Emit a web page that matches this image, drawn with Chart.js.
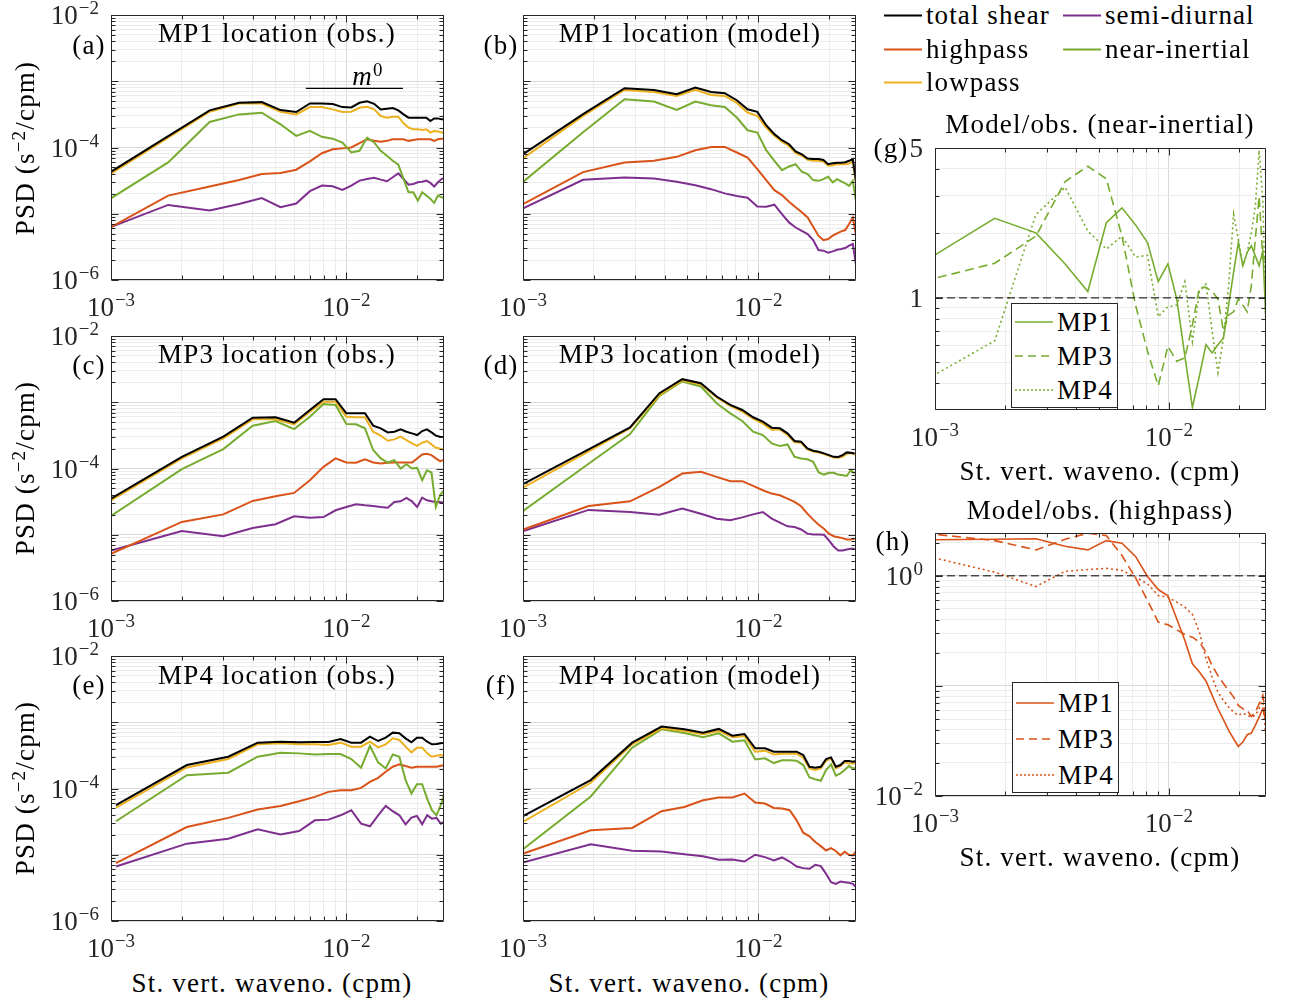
<!DOCTYPE html>
<html>
<head>
<meta charset="utf-8">
<title>Shear spectra, obs. vs model</title>
<script src="https://cdn.jsdelivr.net/npm/chart.js@4.4.1/dist/chart.umd.min.js"></script>
<style>
  html, body { margin: 0; padding: 0; background: #fff; }
  body { position: relative; width: 1290px; height: 1003px; overflow: hidden;
         font-family: 'Liberation Serif', 'DejaVu Serif', serif; color: #000; }
  .panel { position: absolute; }
  .panel canvas { display: block; }
  .txt { position: absolute; z-index: 3; white-space: nowrap; font-size: 27px; letter-spacing: 1.2px;
         line-height: 1; transform: translate(-50%, -50%); }
  .txt sup { font-size: 0.7em; vertical-align: 0.45em; line-height: 0; }
  .ylab { transform: translate(-50%, -50%) rotate(-90deg); }
  .key { position: absolute; z-index: 3; display: flex; align-items: center; transform: translateY(-50%);
         font-size: 27px; letter-spacing: 1.1px; white-space: nowrap; line-height: 1; }
  .key svg { margin-right: 4px; }
  .lbox { position: absolute; z-index: 3; background: #fff; border: 1px solid #262626; box-sizing: border-box; }
  .lbox .key { position: static; transform: none; height: 34px; padding-left: 3px; }
</style>
</head>
<body>
<div id="stage"></div>

<!-- panel titles -->
<div class="txt" style="left:277px;top:33px">MP1 location (obs.)</div>
<div class="txt" style="left:690px;top:33px">MP1 location (model)</div>
<div class="txt" style="left:277px;top:354px">MP3 location (obs.)</div>
<div class="txt" style="left:690px;top:354px">MP3 location (model)</div>
<div class="txt" style="left:277px;top:675px">MP4 location (obs.)</div>
<div class="txt" style="left:690px;top:675px">MP4 location (model)</div>
<div class="txt" style="left:1100px;top:124px">Model/obs. (near-inertial)</div>
<div class="txt" style="left:1100px;top:510px">Model/obs. (highpass)</div>

<!-- panel letters -->
<div class="txt" style="left:89px;top:45px">(a)</div>
<div class="txt" style="left:501px;top:45px">(b)</div>
<div class="txt" style="left:89px;top:365px">(c)</div>
<div class="txt" style="left:501px;top:365px">(d)</div>
<div class="txt" style="left:89px;top:685px">(e)</div>
<div class="txt" style="left:501px;top:685px">(f)</div>
<div class="txt" style="left:891px;top:148px">(g)</div>
<div class="txt" style="left:893px;top:541px">(h)</div>

<!-- axis titles -->
<div class="txt ylab" style="left:25px;top:148px">PSD (s<sup>−2</sup>/cpm)</div>
<div class="txt ylab" style="left:25px;top:468px">PSD (s<sup>−2</sup>/cpm)</div>
<div class="txt ylab" style="left:25px;top:788px">PSD (s<sup>−2</sup>/cpm)</div>
<div class="txt" style="left:272px;top:983px">St. vert. waveno. (cpm)</div>
<div class="txt" style="left:689px;top:983px">St. vert. waveno. (cpm)</div>
<div class="txt" style="left:1100px;top:471px">St. vert. waveno. (cpm)</div>
<div class="txt" style="left:1100px;top:857px">St. vert. waveno. (cpm)</div>

<!-- flat-spectrum marker in (a) -->
<div class="txt" style="left:368px;top:76px"><i>m</i><sup>0</sup></div>

<!-- shared legend -->
<div class="key" style="left:884px;top:15px"><svg width="38" height="4"><line x1="0" y1="2" x2="38" y2="2" stroke="#000000" stroke-width="2"/></svg>total shear</div>
<div class="key" style="left:884px;top:49px"><svg width="38" height="4"><line x1="0" y1="2" x2="38" y2="2" stroke="#D95319" stroke-width="2"/></svg>highpass</div>
<div class="key" style="left:884px;top:82px"><svg width="38" height="4"><line x1="0" y1="2" x2="38" y2="2" stroke="#EDB120" stroke-width="2"/></svg>lowpass</div>
<div class="key" style="left:1063px;top:15px"><svg width="38" height="4"><line x1="0" y1="2" x2="38" y2="2" stroke="#7E2F8E" stroke-width="2"/></svg>semi-diurnal</div>
<div class="key" style="left:1063px;top:49px"><svg width="38" height="4"><line x1="0" y1="2" x2="38" y2="2" stroke="#77AC30" stroke-width="2"/></svg>near-inertial</div>

<!-- legend (g) -->
<div class="lbox" style="left:1011px;top:303px;width:107px;height:105px;padding-top:1px">
  <div class="key"><svg width="38" height="4"><line x1="0" y1="2" x2="38" y2="2" stroke="#77AC30" stroke-width="1.6"/></svg>MP1</div>
  <div class="key"><svg width="38" height="4"><line x1="0" y1="2" x2="38" y2="2" stroke="#77AC30" stroke-width="1.6" stroke-dasharray="8 5"/></svg>MP3</div>
  <div class="key"><svg width="38" height="4"><line x1="0" y1="2" x2="38" y2="2" stroke="#77AC30" stroke-width="1.6" stroke-dasharray="2 2"/></svg>MP4</div>
</div>
<!-- legend (h) -->
<div class="lbox" style="left:1012px;top:682px;width:107px;height:111px;padding-top:2px">
  <div class="key" style="height:36px"><svg width="38" height="4"><line x1="0" y1="2" x2="38" y2="2" stroke="#D95319" stroke-width="1.6"/></svg>MP1</div>
  <div class="key" style="height:36px"><svg width="38" height="4"><line x1="0" y1="2" x2="38" y2="2" stroke="#D95319" stroke-width="1.6" stroke-dasharray="8 5"/></svg>MP3</div>
  <div class="key" style="height:36px"><svg width="38" height="4"><line x1="0" y1="2" x2="38" y2="2" stroke="#D95319" stroke-width="1.6" stroke-dasharray="2 2"/></svg>MP4</div>
</div>

<script>
/* ── wavenumber grids (cpm) ─────────────────────────────────────────────── */
const kObsMP1 = [0.000875,0.00175,0.002625,0.0035,0.004375,0.00525,0.006125,0.007,0.007875,0.00875,0.009625,0.0105,0.011375,0.01225,0.013125,0.014,0.014875,0.01575,0.016625,0.0175,0.018375,0.01925,0.020125,0.021,0.021875,0.02275,0.023625,0.0245,0.025375,0.02625];
const kModMP1 = [0.0009,0.0018,0.0027,0.0036,0.0045,0.0054,0.0063,0.0072,0.0081,0.009,0.0099,0.0108,0.0117,0.0126,0.0135,0.0144,0.0153,0.0162,0.0171,0.018,0.0189,0.0198,0.0207,0.0216,0.0225,0.0234,0.0243,0.0252,0.0261];
const kObsMP3 = [0.001,0.002,0.003,0.004,0.005,0.006,0.007,0.008,0.009,0.01,0.011,0.012,0.013,0.014,0.015,0.016,0.017,0.018,0.019,0.02,0.021,0.022,0.023,0.024,0.025,0.026];
const kModMP3 = [0.00095,0.0019,0.00285,0.0038,0.00475,0.0057,0.00665,0.0076,0.00855,0.0095,0.01045,0.0114,0.01235,0.0133,0.01425,0.0152,0.01615,0.0171,0.01805,0.019,0.01995,0.0209,0.02185,0.0228,0.02375,0.0247,0.02565];
const kObsMP4 = [0.00105,0.0021,0.00315,0.0042,0.00525,0.0063,0.00735,0.0084,0.00945,0.0105,0.01155,0.0126,0.01365,0.0147,0.01575,0.0168,0.01785,0.0189,0.01995,0.021,0.02205,0.0231,0.02415,0.0252,0.02625];
const kModMP4 = [0.00097,0.00194,0.00291,0.00388,0.00485,0.00582,0.00679,0.00776,0.00873,0.0097,0.01067,0.01164,0.01261,0.01358,0.01455,0.01552,0.01649,0.01746,0.01843,0.0194,0.02037,0.02134,0.02231,0.02328,0.02425,0.02522,0.02619];
const kRatio  = kModMP1;

/* ── (a) MP1 obs ───────────────────────────────────────────────────────── */
const obsMP1Total = [3.2e-5,1.48e-4,3.63e-4,4.73e-4,4.84e-4,3.67e-4,3.43e-4,4.62e-4,4.62e-4,4.52e-4,4.07e-4,4.03e-4,4.73e-4,5.0e-4,4.57e-4,3.76e-4,3.85e-4,3.94e-4,3.63e-4,3.16e-4,2.82e-4,2.82e-4,2.82e-4,2.82e-4,2.82e-4,2.51e-4,2.75e-4,2.75e-4,2.66e-4,2.66e-4];
const obsMP1Low   = [3.0e-5,1.41e-4,3.47e-4,4.62e-4,4.62e-4,3.47e-4,3.16e-4,4.07e-4,4.07e-4,3.76e-4,3.43e-4,3.47e-4,3.98e-4,4.12e-4,3.76e-4,2.99e-4,2.82e-4,2.92e-4,2.92e-4,2.32e-4,2.0e-4,1.88e-4,1.88e-4,1.84e-4,1.88e-4,1.68e-4,1.78e-4,1.74e-4,1.68e-4,1.68e-4];
const obsMP1NI    = [1.27e-5,5.96e-5,2.43e-4,3.16e-4,3.35e-4,2.24e-4,1.5e-4,1.78e-4,1.45e-4,1.36e-4,1.19e-4,8.4e-5,8.9e-5,1.41e-4,1.19e-4,8.9e-5,7.5e-5,6.3e-5,5.5e-5,3.35e-5,2.11e-5,2.11e-5,1.58e-5,2.11e-5,1.88e-5,1.68e-5,1.46e-5,1.88e-5,1.78e-5,1.68e-5];
const obsMP1High  = [4.84e-6,1.88e-5,2.57e-5,3.24e-5,3.98e-5,4.12e-5,4.62e-5,6.17e-5,8.2e-5,9.4e-5,9.7e-5,1.0e-4,1.16e-4,1.33e-4,1.26e-4,1.22e-4,1.26e-4,1.33e-4,1.33e-4,1.33e-4,1.26e-4,1.3e-4,1.33e-4,1.33e-4,1.33e-4,1.33e-4,1.26e-4,1.33e-4,1.36e-4,1.36e-4];
const obsMP1Semi  = [5.25e-6,1.36e-5,1.12e-5,1.4e-5,1.72e-5,1.26e-5,1.43e-5,2.19e-5,2.66e-5,2.6e-5,2.29e-5,2.66e-5,3.16e-5,3.35e-5,3.5e-5,3.27e-5,3.09e-5,3.55e-5,4.07e-5,3.35e-5,2.75e-5,2.82e-5,2.99e-5,3.05e-5,3.16e-5,2.92e-5,2.57e-5,2.99e-5,3.35e-5,3.55e-5];
const m0K     = [0.00673, 0.0174];
const m0Level = [7.8e-4, 7.8e-4];

/* ── (b) MP1 model ─────────────────────────────────────────────────────── */
const modMP1Total = [6.15e-5,3.18e-4,7.84e-4,7.4e-4,6.37e-4,8.03e-4,6.9e-4,6.59e-4,5.17e-4,3.78e-4,3.45e-4,2.17e-4,1.59e-4,1.29e-4,1.12e-4,8.7e-5,7.9e-5,6.8e-5,6.7e-5,6.7e-5,6.5e-5,5.6e-5,5.8e-5,5.9e-5,5.9e-5,6.0e-5,6.3e-5,6.7e-5,2.8e-5];
const modMP1Low   = [5.3e-5,3.0e-4,7.4e-4,6.9e-4,6.0e-4,7.4e-4,6.22e-4,6.0e-4,4.71e-4,3.37e-4,3.0e-4,2.0e-4,1.5e-4,1.22e-4,1.06e-4,8.2e-5,7.5e-5,6.5e-5,6.3e-5,6.3e-5,6.15e-5,5.3e-5,5.4e-5,5.6e-5,5.6e-5,5.6e-5,5.75e-5,6.15e-5,2.65e-5];
const modMP1NI    = [2.22e-5,1.7e-4,5.35e-4,4.94e-4,3.7e-4,4.94e-4,4.35e-4,4.1e-4,2.83e-4,1.82e-4,1.68e-4,9.1e-5,6.3e-5,4.55e-5,5.17e-5,5.6e-5,4.3e-5,3.96e-5,3.22e-5,3.14e-5,3.33e-5,3.61e-5,2.97e-5,3.33e-5,3.07e-5,2.87e-5,2.64e-5,3.14e-5,1.4e-5];
const modMP1High  = [1.15e-5,4.25e-5,5.94e-5,6.3e-5,7.23e-5,9.1e-5,1.02e-4,1.02e-4,8.4e-5,7.06e-5,4.71e-5,3.22e-5,2.27e-5,1.91e-5,1.52e-5,1.25e-5,1.05e-5,8.8e-6,6.37e-6,4.66e-6,4.0e-6,4.15e-6,4.66e-6,5.06e-6,5.42e-6,5.67e-6,6.98e-6,8.8e-6,4.4e-6];
const modMP1Semi  = [1.01e-5,3.26e-5,3.53e-5,3.41e-5,3.04e-5,2.7e-5,2.35e-5,2.03e-5,1.85e-5,1.74e-5,1.29e-5,1.28e-5,1.37e-5,9.9e-6,7.4e-6,6.2e-6,5.5e-6,4.93e-6,4.0e-6,2.83e-6,2.77e-6,2.58e-6,2.7e-6,2.86e-6,2.93e-6,3.04e-6,3.3e-6,3.49e-6,1.55e-6];

/* ── (c) MP3 obs ───────────────────────────────────────────────────────── */
const obsMP3Total = [3.5e-5,1.5e-4,3.02e-4,5.86e-4,5.93e-4,4.92e-4,7.65e-4,1.11e-3,1.11e-3,6.81e-4,6.81e-4,6.81e-4,4.43e-4,4.04e-4,3.51e-4,3.59e-4,3.9e-4,3.59e-4,3.39e-4,3.2e-4,3.68e-4,3.9e-4,3.51e-4,3.13e-4,3.02e-4,2.95e-4];
const obsMP3Low   = [3.31e-5,1.42e-4,2.85e-4,5.53e-4,5.53e-4,4.64e-4,7.22e-4,1.02e-3,1.02e-3,6.06e-4,5.93e-4,5.93e-4,3.59e-4,3.13e-4,2.62e-4,2.75e-4,3.02e-4,2.69e-4,2.39e-4,2.2e-4,2.45e-4,2.6e-4,2.31e-4,2.06e-4,2.01e-4,1.9e-4];
const obsMP3NI    = [1.92e-5,9.8e-5,1.96e-4,4.43e-4,5.21e-4,3.94e-4,6.06e-4,9.44e-4,9.12e-4,4.7e-4,4.64e-4,4.04e-4,1.9e-4,1.42e-4,1.23e-4,1.34e-4,1.0e-4,1.16e-4,1.0e-4,1.02e-4,6.66e-5,9.4e-5,8.7e-5,2.62e-5,3.94e-5,4.7e-5];
const obsMP3High  = [5.15e-6,1.56e-5,2.03e-5,3.24e-5,3.81e-5,4.28e-5,6.66e-5,1.06e-4,1.42e-4,1.23e-4,1.22e-4,1.38e-4,1.23e-4,1.19e-4,1.22e-4,1.23e-4,1.23e-4,1.23e-4,1.23e-4,1.42e-4,1.63e-4,1.67e-4,1.59e-4,1.42e-4,1.29e-4,1.35e-4];
const obsMP3Semi  = [5.79e-6,1.14e-5,9.5e-6,1.26e-5,1.44e-5,1.9e-5,1.81e-5,1.85e-5,2.34e-5,2.62e-5,2.88e-5,2.78e-5,2.72e-5,2.62e-5,2.56e-5,3.13e-5,3.2e-5,3.6e-5,3.2e-5,2.62e-5,3.64e-5,3.31e-5,3.2e-5,3.13e-5,3.13e-5,3.05e-5];

/* ── (d) MP3 model ─────────────────────────────────────────────────────── */
const modMP3Total = [5.27e-5,1.94e-4,4.18e-4,1.37e-3,2.23e-3,1.94e-3,1.22e-3,9.12e-4,7.65e-4,5.93e-4,5.09e-4,4.13e-4,4.04e-4,3.39e-4,2.6e-4,2.54e-4,2.01e-4,1.85e-4,1.79e-4,1.69e-4,1.59e-4,1.5e-4,1.49e-4,1.59e-4,1.75e-4,1.73e-4,1.69e-4];
const modMP3Low   = [4.65e-5,1.81e-4,4.04e-4,1.29e-3,2.13e-3,1.87e-3,1.18e-3,8.8e-4,7.22e-4,5.66e-4,4.75e-4,3.85e-4,3.9e-4,3.2e-4,2.48e-4,2.45e-4,1.94e-4,1.81e-4,1.75e-4,1.65e-4,1.56e-4,1.47e-4,1.45e-4,1.5e-4,1.67e-4,1.71e-4,1.63e-4];
const modMP3NI    = [2.01e-5,1.18e-4,3.31e-4,1.25e-3,2.06e-3,1.73e-3,9.66e-4,6.81e-4,5.21e-4,3.59e-4,3.2e-4,2.39e-4,2.18e-4,2.31e-4,1.5e-4,1.42e-4,1.38e-4,1.26e-4,8.7e-5,8.1e-5,8.6e-5,8.6e-5,8.1e-5,7.9e-5,7.7e-5,9.4e-5,8.4e-5];
const modMP3High  = [1.12e-5,2.72e-5,3.2e-5,5.27e-5,8.4e-5,8.9e-5,7.48e-5,6.43e-5,6.43e-5,5.46e-5,4.7e-5,4.18e-5,3.94e-5,3.51e-5,3.13e-5,2.69e-5,2.08e-5,1.69e-5,1.42e-5,1.23e-5,1.04e-5,9.5e-6,9.2e-6,8.9e-6,8.5e-6,8.5e-6,8.7e-6];
const modMP3Semi  = [1.07e-5,2.37e-5,2.2e-5,2.01e-5,2.48e-5,2.08e-5,1.75e-5,1.65e-5,1.83e-5,2.03e-5,2.2e-5,1.75e-5,1.52e-5,1.34e-5,1.31e-5,1.2e-5,1.04e-5,1.01e-5,1.01e-5,1.0e-5,8.2e-6,6.65e-6,5.8e-6,5.8e-6,6.0e-6,6.14e-6,6.14e-6];

/* ── (e) MP4 obs ───────────────────────────────────────────────────────── */
const obsMP4Total = [5.59e-5,2.26e-4,3.02e-4,4.92e-4,5.09e-4,4.98e-4,5.03e-4,5.03e-4,5.59e-4,4.92e-4,4.92e-4,6.06e-4,5.21e-4,5.86e-4,6.97e-4,6.81e-4,5.72e-4,4.98e-4,5.86e-4,5.86e-4,5.09e-4,4.64e-4,4.7e-4,4.81e-4,4.92e-4];
const obsMP4Low   = [5.15e-5,2.08e-4,2.78e-4,4.64e-4,4.81e-4,4.64e-4,4.64e-4,4.54e-4,4.92e-4,4.28e-4,4.28e-4,5.09e-4,4.18e-4,4.64e-4,5.72e-4,5.4e-4,4.28e-4,3.51e-4,4.13e-4,4.13e-4,3.39e-4,3.02e-4,3.13e-4,3.2e-4,3.08e-4];
const obsMP4NI    = [3.2e-5,1.59e-4,1.73e-4,3.02e-4,3.47e-4,3.39e-4,3.27e-4,3.31e-4,3.31e-4,2.78e-4,2.06e-4,4.38e-4,2.48e-4,2.01e-4,3.27e-4,3.02e-4,1.34e-4,8.4e-5,1.16e-4,1.16e-4,7.05e-5,4.7e-5,3.94e-5,5.59e-5,8.9e-5];
const obsMP4High  = [7.48e-6,2.62e-5,3.6e-5,4.81e-5,5.46e-5,6.43e-5,7.48e-5,8.9e-5,9.4e-5,9.4e-5,1.02e-4,1.26e-4,1.45e-4,1.79e-4,2.13e-4,2.31e-4,2.18e-4,2.06e-4,2.13e-4,2.13e-4,2.13e-4,2.13e-4,2.13e-4,2.2e-4,2.26e-4];
const obsMP4Semi  = [6.65e-6,1.47e-5,1.75e-5,2.42e-5,2.03e-5,2.28e-5,3.31e-5,3.39e-5,3.94e-5,4.7e-5,2.95e-5,2.69e-5,3.94e-5,5.46e-5,4.54e-5,3.94e-5,2.88e-5,3.64e-5,3.85e-5,2.88e-5,3.94e-5,3.51e-5,3.6e-5,2.95e-5,3.2e-5];

/* ── (f) MP4 model ─────────────────────────────────────────────────────── */
const modMP4Total = [3.6e-5,1.34e-4,4.92e-4,8.6e-4,7.83e-4,6.97e-4,7.93e-4,6.28e-4,6.65e-4,4.04e-4,4.04e-4,3.59e-4,3.59e-4,3.59e-4,3.59e-4,3.2e-4,2.13e-4,2.06e-4,2.13e-4,2.78e-4,2.95e-4,2.13e-4,2.26e-4,2.6e-4,2.6e-4,2.54e-4,2.6e-4];
const modMP4Low   = [2.95e-5,1.22e-4,4.64e-4,8.11e-4,7.39e-4,6.58e-4,7.39e-4,5.93e-4,6.21e-4,3.59e-4,3.72e-4,3.27e-4,3.35e-4,3.35e-4,3.35e-4,2.92e-4,2.01e-4,1.9e-4,2.01e-4,2.62e-4,2.85e-4,2.01e-4,2.18e-4,2.48e-4,2.39e-4,2.39e-4,2.45e-4];
const modMP4NI    = [1.11e-5,7.57e-5,4.13e-4,7.83e-4,6.89e-4,5.93e-4,6.81e-4,5.09e-4,5.34e-4,2.75e-4,2.85e-4,2.42e-4,2.66e-4,2.66e-4,2.62e-4,2.26e-4,1.47e-4,1.38e-4,1.31e-4,1.9e-4,2.31e-4,1.56e-4,1.69e-4,1.9e-4,2.18e-4,2.01e-4,2.06e-4];
const modMP4High  = [1.0e-5,2.34e-5,2.54e-5,4.54e-5,5.27e-5,6.66e-5,7.31e-5,7.31e-5,8.4e-5,6.14e-5,5.93e-5,5.09e-5,4.98e-5,4.7e-5,3.31e-5,2.15e-5,1.9e-5,1.56e-5,1.35e-5,1.16e-5,1.26e-5,1.14e-5,9.8e-6,1.11e-5,1.0e-5,9.8e-6,1.16e-5];
const modMP4Semi  = [7.4e-6,1.44e-5,1.15e-5,1.12e-5,1.02e-5,9.5e-6,8.4e-6,8.5e-6,7.9e-6,1.0e-5,9.2e-6,8.2e-6,9.1e-6,7.9e-6,6.65e-6,6.28e-6,6.14e-6,7.05e-6,6.73e-6,5.15e-6,3.85e-6,3.64e-6,3.94e-6,3.85e-6,3.77e-6,3.64e-6,3.13e-6];

/* ── (g) (h) model/obs ratios ──────────────────────────────────────────── */
const ratioNI_MP1 = [1.48,2.35,2.01,1.44,1.07,2.24,2.63,2.19,1.81,1.19,1.44,0.99,0.535,0.309,0.433,0.605,0.554,0.605,0.65,0.925,1.32,1.81,1.41,1.63,1.75,1.57,1.41,1.66,0.70];
const ratioNI_MP3 = [1.2,1.45,1.94,3.49,4.11,3.59,1.94,0.925,0.564,0.389,0.595,0.507,0.525,0.748,1.12,1.12,1.07,0.99,0.70,0.832,0.861,0.99,0.925,0.861,1.14,1.88,2.97,1.52,1.52];
const ratioNI_MP4 = [0.411,0.631,2.45,3.28,2.05,1.69,1.94,1.55,1.58,0.817,0.909,0.925,1.19,0.627,1.07,1.16,0.70,0.448,0.65,1.14,2.45,1.88,1.41,1.63,2.01,2.67,4.88,2.87,0.605];
const ratioHP_MP1 = [2.12,2.15,2.17,1.86,1.72,2.09,1.98,1.5,0.986,0.751,0.658,0.407,0.259,0.159,0.134,0.111,0.082,0.062,0.0493,0.0394,0.0331,0.0282,0.0309,0.036,0.0373,0.0438,0.0521,0.062,0.0454];
const ratioHP_MP3 = [2.44,2.09,1.72,2.15,2.44,2.32,1.53,0.959,0.597,0.38,0.359,0.324,0.293,0.277,0.25,0.203,0.153,0.124,0.105,0.091,0.0792,0.0665,0.062,0.06,0.0529,0.0578,0.0689,0.082,0.0486];
const ratioHP_MP4 = [1.53,1.08,0.8,1.1,1.14,1.17,1.12,0.972,0.846,0.663,0.64,0.577,0.52,0.446,0.308,0.177,0.12,0.0879,0.0738,0.0643,0.0578,0.054,0.0566,0.054,0.0521,0.054,0.0621,0.0764,0.0299];
const unityK = [0.001, 0.026];
const unityY = [1, 1];

/* ── tick lists and labels (base, exponent) ────────────────────────────── */
const waveTicks = [0.001,0.002,0.003,0.004,0.005,0.006,0.007,0.008,0.009,0.01,0.02];
const psdTicks  = [1e-6,2e-6,3e-6,4e-6,5e-6,6e-6,7e-6,8e-6,9e-6,1e-5,2e-5,3e-5,4e-5,5e-5,6e-5,7e-5,8e-5,9e-5,
                   1e-4,2e-4,3e-4,4e-4,5e-4,6e-4,7e-4,8e-4,9e-4,1e-3,2e-3,3e-3,4e-3,5e-3,6e-3,7e-3,8e-3,9e-3,1e-2];
const niRatioTicks = [0.4,0.5,0.6,0.7,0.8,0.9,1,2,3,4,5];
const hpRatioTicks = [0.01,0.02,0.03,0.04,0.05,0.06,0.07,0.08,0.09,0.1,0.2,0.3,0.4,0.5,0.6,0.7,0.8,0.9,1,2];
const waveLabels = { '-3': ['10', '−3'], '-2': ['10', '−2'] };
const psdLabels  = { '-6': ['10', '−6'], '-4': ['10', '−4'], '-2': ['10', '−2'] };
const niLabels   = { '5': ['5', ''], '1': ['1', ''] };
const hpLabels   = { '0': ['10', '0'], '-2': ['10', '−2'] };

/* ── styles ────────────────────────────────────────────────────────────── */
const BLACK = '#000000', HIGH = '#D95319', LOW = '#EDB120', SEMI = '#7E2F8E', NI = '#77AC30';
const AXIS_INK = '#262626';
const BASE_FONT = "27px 'Liberation Serif', 'DejaVu Serif', serif";
const EXP_FONT  = "19px 'Liberation Serif', 'DejaVu Serif', serif";

const isDecade = v => Math.abs(Math.log10(v) - Math.round(Math.log10(v))) < 1e-9;
const decadeLabel = table => v => {
  const e = Math.log10(v);
  return Math.abs(e - Math.round(e)) < 1e-9 ? (table[String(Math.round(e))] || null) : null;
};
const plainLabel = table => v => table[String(v)] || null;
const pts = (xs, ys) => ys.map((y, i) => ({ x: xs[i], y }));

function line(label, xs, ys, color, dash, width) {
  return { label, data: pts(xs, ys), borderColor: color, borderWidth: width || 2,
           borderDash: dash || [], pointRadius: 0, tension: 0, fill: false };
}

/* MATLAB-ish box with inward ticks on all four sides */
const framePlugin = {
  id: 'matlabFrame',
  afterDatasetsDraw(chart) {
    const { ctx, chartArea: a, scales: { x, y } } = chart;
    const left = Math.round(a.left) + 0.5, right = Math.round(a.right) - 0.5;
    const top = Math.round(a.top) + 0.5, bottom = Math.round(a.bottom) - 0.5;
    ctx.save();
    ctx.strokeStyle = AXIS_INK;
    ctx.lineWidth = 1;
    ctx.beginPath();
    x.ticks.forEach(t => {
      const px = Math.round(x.getPixelForValue(t.value)) + 0.5;
      const len = isDecade(t.value) ? 7 : 4;
      ctx.moveTo(px, bottom); ctx.lineTo(px, bottom - len);
      ctx.moveTo(px, top); ctx.lineTo(px, top + len);
    });
    y.ticks.forEach(t => {
      const py = Math.round(y.getPixelForValue(t.value)) + 0.5;
      const len = isDecade(t.value) ? 7 : 4;
      ctx.moveTo(left, py); ctx.lineTo(left + len, py);
      ctx.moveTo(right, py); ctx.lineTo(right - len, py);
    });
    ctx.rect(left, top, right - left, bottom - top);
    ctx.stroke();
    ctx.restore();
  }
};

/* power-of-ten tick labels with a real raised exponent */
function drawPow(ctx, spec, x, baseline, align) {
  ctx.font = BASE_FONT;
  const wb = ctx.measureText(spec[0]).width;
  ctx.font = EXP_FONT;
  const we = spec[1] ? ctx.measureText(spec[1]).width + 1 : 0;
  const x0 = align === 'center' ? x - (wb + we) / 2 : x - (wb + we);
  ctx.font = BASE_FONT;
  ctx.fillText(spec[0], x0, baseline);
  if (spec[1]) {
    ctx.font = EXP_FONT;
    ctx.fillText(spec[1], x0 + wb + 1, baseline - 10);
  }
}
const tickLabelPlugin = {
  id: 'powTicks',
  afterDraw(chart, args, opts) {
    const { ctx, chartArea: a, scales: { x, y } } = chart;
    ctx.save();
    ctx.fillStyle = AXIS_INK;
    ctx.textAlign = 'left';
    ctx.textBaseline = 'alphabetic';
    if (opts.x) x.ticks.forEach(t => {
      const spec = opts.x(t.value);
      if (spec) drawPow(ctx, spec, x.getPixelForValue(t.value), a.bottom + 36, 'center');
    });
    if (opts.y) y.ticks.forEach(t => {
      const spec = opts.y(t.value);
      if (spec) drawPow(ctx, spec, a.left - 12, y.getPixelForValue(t.value) + 9, 'right');
    });
    ctx.restore();
  }
};

function makePanel(cfg) {
  const { L, T, R, B } = cfg.area;
  const pad = cfg.pad;
  const w = R - L + pad.l + pad.r, h = B - T + pad.t + pad.b;
  const wrap = document.createElement('div');
  wrap.className = 'panel';
  wrap.style.cssText = `left:${L - pad.l}px;top:${T - pad.t}px;width:${w}px;height:${h}px`;
  const cv = document.createElement('canvas');
  cv.width = w; cv.height = h;
  wrap.appendChild(cv);
  document.getElementById('stage').appendChild(wrap);

  const gridColor = c => (c.tick && isDecade(c.tick.value)) ? '#d9d9d9' : '#ececec';
  return new Chart(cv, {
    type: 'line',
    data: { datasets: cfg.datasets },
    options: {
      responsive: false, animation: false, events: [],
      layout: { padding: { left: 0, top: pad.t, right: pad.r, bottom: 0 } },
      plugins: {
        legend: { display: false }, tooltip: { enabled: false },
        powTicks: { x: decadeLabel(waveLabels), y: cfg.yLabel || null }
      },
      scales: {
        x: {
          type: 'logarithmic', min: 0.001, max: 0.026,
          afterBuildTicks: s => { s.ticks = waveTicks.map(v => ({ value: v })); },
          afterFit: s => { s.height = pad.b; },
          grid: { color: gridColor, drawTicks: false },
          border: { display: false },
          ticks: { display: false, autoSkip: false }
        },
        y: {
          type: 'logarithmic', min: cfg.yMin, max: cfg.yMax,
          afterBuildTicks: s => { s.ticks = cfg.yTicks.map(v => ({ value: v })); },
          afterFit: s => { s.width = pad.l; },
          grid: { color: gridColor, drawTicks: false },
          border: { display: false },
          ticks: { display: false, autoSkip: false }
        }
      }
    },
    plugins: [framePlugin, tickLabelPlugin]
  });
}

function spectra(k, total, low, ni, high, semi) {
  return [
    line('total shear', k, total, BLACK),
    line('lowpass', k, low, LOW),
    line('near-inertial', k, ni, NI),
    line('highpass', k, high, HIGH),
    line('semi-diurnal', k, semi, SEMI)
  ];
}

const DASH = [9, 5], DOT = [2, 3];
const psdLabelFn = decadeLabel(psdLabels);
const padLeftCol = { l: 111, t: 15, r: 14, b: 42 };
const padMidCol  = { l: 50,  t: 15, r: 14, b: 42 };

makePanel({ area: { L: 111, T: 15, R: 444, B: 280 }, pad: padLeftCol, yMin: 1e-6, yMax: 1e-2,
  yTicks: psdTicks, yLabel: psdLabelFn,
  datasets: spectra(kObsMP1, obsMP1Total, obsMP1Low, obsMP1NI, obsMP1High, obsMP1Semi)
    .concat([line('m0', m0K, m0Level, BLACK, [], 1.3)]) });
makePanel({ area: { L: 523, T: 15, R: 856, B: 280 }, pad: padMidCol, yMin: 1e-6, yMax: 1e-2,
  yTicks: psdTicks,
  datasets: spectra(kModMP1, modMP1Total, modMP1Low, modMP1NI, modMP1High, modMP1Semi) });
makePanel({ area: { L: 111, T: 336, R: 444, B: 601 }, pad: { l: 111, t: 20, r: 14, b: 42 }, yMin: 1e-6, yMax: 1e-2,
  yTicks: psdTicks, yLabel: psdLabelFn,
  datasets: spectra(kObsMP3, obsMP3Total, obsMP3Low, obsMP3NI, obsMP3High, obsMP3Semi) });
makePanel({ area: { L: 523, T: 336, R: 856, B: 601 }, pad: { l: 50, t: 20, r: 14, b: 42 }, yMin: 1e-6, yMax: 1e-2,
  yTicks: psdTicks,
  datasets: spectra(kModMP3, modMP3Total, modMP3Low, modMP3NI, modMP3High, modMP3Semi) });
makePanel({ area: { L: 111, T: 656, R: 444, B: 921 }, pad: { l: 111, t: 20, r: 14, b: 42 }, yMin: 1e-6, yMax: 1e-2,
  yTicks: psdTicks, yLabel: psdLabelFn,
  datasets: spectra(kObsMP4, obsMP4Total, obsMP4Low, obsMP4NI, obsMP4High, obsMP4Semi) });
makePanel({ area: { L: 523, T: 656, R: 856, B: 921 }, pad: { l: 50, t: 20, r: 14, b: 42 }, yMin: 1e-6, yMax: 1e-2,
  yTicks: psdTicks,
  datasets: spectra(kModMP4, modMP4Total, modMP4Low, modMP4NI, modMP4High, modMP4Semi) });

makePanel({ area: { L: 935, T: 148, R: 1266, B: 410 }, pad: { l: 60, t: 16, r: 14, b: 42 },
  yMin: 0.31, yMax: 5, yTicks: niRatioTicks, yLabel: plainLabel(niLabels),
  datasets: [
    line('unity', unityK, unityY, BLACK, [8, 4], 1),
    line('MP1', kRatio, ratioNI_MP1, NI, [], 1.6),
    line('MP3', kRatio, ratioNI_MP3, NI, DASH, 1.6),
    line('MP4', kRatio, ratioNI_MP4, NI, DOT, 1.6)
  ] });
makePanel({ area: { L: 935, T: 533, R: 1266, B: 796 }, pad: { l: 80, t: 16, r: 14, b: 42 },
  yMin: 0.01, yMax: 2.45, yTicks: hpRatioTicks, yLabel: decadeLabel(hpLabels),
  datasets: [
    line('unity', unityK, unityY, BLACK, [8, 4], 1),
    line('MP1', kRatio, ratioHP_MP1, HIGH, [], 1.6),
    line('MP3', kRatio, ratioHP_MP3, HIGH, DASH, 1.6),
    line('MP4', kRatio, ratioHP_MP4, HIGH, DOT, 1.6)
  ] });
</script>
</body>
</html>
